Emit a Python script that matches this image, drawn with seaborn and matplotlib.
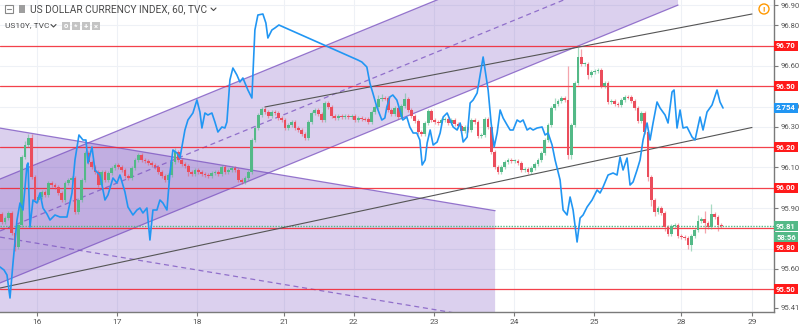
import numpy as np
import pandas as pd
import matplotlib
matplotlib.use("Agg")
import matplotlib.pyplot as plt
import seaborn as sns
from matplotlib.patches import Rectangle, Polygon, Ellipse
from matplotlib.lines import Line2D

sns.set_theme(style="white")
plt.rcParams['font.family'] = ['Roboto', 'DejaVu Sans']

# ---------------- data ----------------
first_open = 95.871
dxy_close = [
    95.831, 95.851, 95.876, 95.777, 95.708, 95.817, 96.152, 96.211, 96.245, 96.053,
    95.940, 95.955, 95.979, 95.964, 96.024, 96.014, 96.004, 95.974, 95.940, 96.024,
    96.038, 96.048, 95.881, 95.940, 96.038, 96.171, 96.127, 96.102, 96.078, 96.014,
    96.078, 96.038, 96.073, 96.097, 96.112, 96.102, 96.088, 96.058, 96.048, 96.097,
    96.137, 96.161, 96.137, 96.132, 96.122, 96.112, 96.102, 96.078, 96.058, 96.038,
    96.063, 96.127, 96.176, 96.137, 96.117, 96.107, 96.078, 96.068, 96.088, 96.078,
    96.068, 96.063, 96.058, 96.073, 96.078, 96.068, 96.102, 96.078, 96.088, 96.097,
    96.088, 96.038, 96.028, 96.048, 96.078, 96.235, 96.294, 96.358, 96.388, 96.373,
    96.354, 96.373, 96.368, 96.344, 96.334, 96.294, 96.309, 96.324, 96.294, 96.285,
    96.265, 96.245, 96.324, 96.368, 96.383, 96.363, 96.334, 96.418, 96.398, 96.354,
    96.344, 96.354, 96.349, 96.354, 96.349, 96.354, 96.334, 96.344, 96.341, 96.339,
    96.324, 96.373, 96.398, 96.437, 96.442, 96.440, 96.383, 96.363, 96.393, 96.349,
    96.403, 96.437, 96.383, 96.354, 96.329, 96.275, 96.265, 96.319, 96.378, 96.334,
    96.324, 96.319, 96.334, 96.339, 96.319, 96.334, 96.314, 96.304, 96.280, 96.299,
    96.285, 96.334, 96.324, 96.255, 96.260, 96.339, 96.299, 96.176, 96.102, 96.078,
    96.102, 96.127, 96.137, 96.132, 96.134, 96.122, 96.088, 96.090, 96.078, 96.097,
    96.117, 96.137, 96.171, 96.235, 96.309, 96.393, 96.413, 96.427, 96.442, 96.432,
    96.161, 96.309, 96.516, 96.644, 96.610, 96.612, 96.556, 96.570, 96.575, 96.580,
    96.501, 96.516, 96.423, 96.425, 96.413, 96.408, 96.432, 96.447, 96.445, 96.427,
    96.393, 96.329, 96.368, 96.275, 96.053, 95.940, 95.881, 95.900, 95.876, 95.807,
    95.772, 95.812, 95.817, 95.762, 95.757, 95.753, 95.718, 95.762, 95.792, 95.836,
    95.846, 95.826, 95.807, 95.871, 95.856, 95.817, 95.812,
]
# wick lengths beyond the candle body, in hundredths of an index point
wick_up = [
    1, 1, 1, 1, 1, 1, 1, 2, 2, 2,
    1, 1, 1, 1, 1, 1, 1, 1, 1, 1,
    1, 1, 1, 1, 1, 1, 1, 1, 1, 1,
    1, 1, 1, 1, 1, 1, 1, 1, 1, 1,
    1, 1, 1, 1, 1, 1, 1, 1, 1, 1,
    1, 1, 2, 1, 1, 1, 1, 1, 1, 1,
    1, 1, 1, 1, 1, 1, 1, 1, 1, 1,
    1, 1, 1, 1, 1, 1, 1, 1, 1, 1,
    1, 1, 1, 1, 1, 1, 1, 1, 1, 1,
    1, 1, 1, 1, 1, 1, 1, 1, 1, 1,
    1, 1, 1, 1, 1, 1, 1, 1, 1, 1,
    1, 1, 1, 2, 2, 1, 1, 1, 1, 1,
    1, 3, 1, 1, 1, 1, 1, 1, 1, 1,
    1, 1, 1, 1, 1, 1, 1, 1, 1, 1,
    1, 1, 1, 1, 1, 1, 1, 1, 1, 1,
    1, 1, 1, 1, 1, 1, 1, 1, 1, 1,
    1, 1, 1, 1, 1, 1, 3, 1, 1, 1,
    17, 1, 1, 5, 4, 1, 1, 1, 1, 1,
    1, 1, 1, 1, 1, 1, 1, 1, 1, 1,
    1, 1, 1, 1, 1, 1, 1, 1, 1, 1,
    1, 1, 1, 1, 1, 1, 1, 1, 1, 3,
    1, 4, 1, 5, 1, 1, 1,
]
wick_dn = [
    1, 1, 1, 1, 2, 1, 1, 1, 1, 1,
    1, 1, 1, 1, 1, 1, 1, 1, 1, 1,
    1, 1, 1, 1, 1, 1, 1, 1, 1, 1,
    1, 1, 1, 1, 1, 1, 1, 1, 1, 1,
    1, 1, 1, 1, 1, 1, 1, 1, 1, 1,
    1, 1, 1, 1, 1, 1, 2, 1, 1, 1,
    1, 1, 1, 1, 1, 1, 1, 1, 1, 1,
    1, 1, 1, 1, 1, 1, 1, 1, 1, 1,
    1, 1, 1, 1, 1, 1, 1, 1, 1, 1,
    1, 1, 1, 1, 1, 1, 1, 1, 1, 1,
    1, 1, 1, 1, 1, 1, 1, 1, 1, 1,
    1, 1, 1, 1, 1, 1, 1, 1, 1, 1,
    1, 1, 1, 1, 1, 1, 1, 1, 1, 1,
    1, 1, 1, 1, 1, 1, 1, 1, 1, 1,
    1, 1, 1, 1, 1, 1, 1, 1, 1, 1,
    1, 1, 1, 1, 1, 1, 1, 1, 1, 1,
    1, 1, 1, 1, 1, 1, 1, 1, 1, 1,
    2, 2, 1, 1, 1, 1, 2, 1, 1, 1,
    1, 1, 1, 1, 1, 1, 1, 1, 1, 1,
    1, 1, 1, 1, 2, 3, 2, 1, 1, 2,
    1, 1, 1, 1, 1, 1, 2, 3, 1, 1,
    1, 5, 1, 1, 1, 3, 1,
]
us10y_hour = [
    -0.5, 0.7, 1.6, 2.5, 3.4, 4.6, 5.5, 6.4, 7.6, 7.9, 8.5, 9.4, 10.6, 11.5, 12.4,
    13.6, 14.5, 16.0, 17.5, 19.6, 21.1, 22.0, 23.2, 24.4, 25.3, 25.9, 27.1, 28.0,
    29.5, 31.0, 31.9, 33.4, 34.6, 35.5, 37.0, 37.9, 39.4, 40.6, 41.5, 42.4, 43.6,
    44.5, 45.4, 46.6, 47.5, 48.4, 49.6, 50.5, 51.4, 52.6, 53.5, 55.0, 55.9, 57.4,
    58.6, 59.5, 60.1, 61.0, 61.9, 63.1, 64.0, 64.9, 66.1, 67.0, 67.6, 68.5, 69.4,
    70.6, 71.5, 72.4, 73.9, 75.1, 76.0, 76.9, 78.4, 79.3, 79.9, 81.1, 82.0, 83.2,
    106.9, 108.1, 109.6, 110.5, 111.4, 112.6, 114.1, 115.0, 115.6, 116.5, 117.4,
    118.6, 119.5, 120.4, 121.6, 122.5, 123.5, 124.6, 125.5, 126.2, 127.1, 127.7,
    128.6, 129.5, 130.7, 131.6, 132.5, 133.7, 134.6, 135.5, 136.7, 137.6, 138.5,
    139.7, 140.6, 141.5, 142.7, 143.6, 144.5, 146.0, 146.9, 147.8, 148.7, 149.6,
    150.5, 151.7, 152.6, 153.5, 154.7, 155.6, 156.5, 157.7, 158.6, 159.5, 160.7,
    162.2, 163.1, 164.0, 165.2, 166.1, 167.6, 168.5, 169.7, 170.6, 171.5, 172.7,
    173.6, 174.5, 175.7, 177.2, 178.7, 179.6, 180.5, 182.0, 183.5, 184.7, 185.6,
    186.5, 187.7, 188.6, 189.5, 190.7, 191.6, 192.5, 193.7, 194.6, 195.5, 196.7,
    197.6, 199.1, 200.0, 201.2, 201.8, 202.7, 203.6, 204.5, 205.7, 207.2, 208.1,
    209.6, 210.5, 211.7, 213.2, 214.7, 215.6, 216.5,
]
us10y_yield = [
    2.6904, 2.6892, 2.6872, 2.6780, 2.6920, 2.7092, 2.7160, 2.7132, 2.7312, 2.7320,
    2.7064, 2.7172, 2.7160, 2.7200, 2.7140, 2.7116, 2.7092, 2.7112, 2.7104, 2.7104,
    2.7200, 2.7332, 2.7432, 2.7412, 2.7412, 2.7320, 2.7384, 2.7292, 2.7272, 2.7172,
    2.7192, 2.7260, 2.7240, 2.7272, 2.7204, 2.7144, 2.7112, 2.7132, 2.7140, 2.7120,
    2.7140, 2.7012, 2.7132, 2.7132, 2.7172, 2.7160, 2.7132, 2.7280, 2.7372, 2.7360,
    2.7340, 2.7452, 2.7492, 2.7520, 2.7572, 2.7524, 2.7460, 2.7520, 2.7512, 2.7520,
    2.7484, 2.7444, 2.7464, 2.7460, 2.7484, 2.7652, 2.7700, 2.7672, 2.7644, 2.7660,
    2.7612, 2.7580, 2.7852, 2.7912, 2.7916, 2.7880, 2.7820, 2.7852, 2.7860, 2.7872,
    2.7732, 2.7724, 2.7704, 2.7640, 2.7600, 2.7544, 2.7492, 2.7500, 2.7544, 2.7584,
    2.7592, 2.7572, 2.7532, 2.7492, 2.7504, 2.7464, 2.7440, 2.7440, 2.7412, 2.7312,
    2.7332, 2.7400, 2.7452, 2.7392, 2.7404, 2.7440, 2.7504, 2.7520, 2.7492, 2.7464,
    2.7452, 2.7480, 2.7404, 2.7424, 2.7560, 2.7572, 2.7600, 2.7672, 2.7744, 2.7612,
    2.7480, 2.7384, 2.7440, 2.7532, 2.7500, 2.7472, 2.7452, 2.7452, 2.7492, 2.7484,
    2.7492, 2.7452, 2.7460, 2.7452, 2.7460, 2.7464, 2.7432, 2.7440, 2.7392, 2.7332,
    2.7252, 2.7132, 2.7112, 2.7184, 2.7132, 2.7004, 2.7100, 2.7112, 2.7144, 2.7172,
    2.7212, 2.7200, 2.7224, 2.7272, 2.7280, 2.7272, 2.7344, 2.7292, 2.7340, 2.7232,
    2.7244, 2.7292, 2.7332, 2.7412, 2.7480, 2.7412, 2.7480, 2.7564, 2.7540, 2.7512,
    2.7480, 2.7604, 2.7612, 2.7460, 2.7532, 2.7460, 2.7464, 2.7424, 2.7412, 2.7504,
    2.7452, 2.7524, 2.7552, 2.7612, 2.7564, 2.7540,
]
day_labels = ["16", "17", "18", "21", "22", "23", "24", "25", "28", "29"]
day_ticks = [10.6, 34.6, 58.6, 84.7, 105.7, 129.8, 153.8, 177.8, 203.9, 225.2]
level_prices = [96.70, 96.50, 96.20, 96.00, 95.80, 95.50]
level_labels = ["96.70", "96.50", "96.20", "96.00", "95.80", "95.50"]
price_ticks = [96.90, 96.80, 96.60, 96.40, 96.30, 96.10, 95.90, 95.60, 95.41]
last_price = 95.81
last_yield = 2.754
countdown = "58:56"
# user drawings (anchor points: hour index, price)
rise_channel_t = [-0.5, 203.0]
rise_channel_base = [95.531, 96.900]
rise_channel_width = 0.512
fall_channel_t = [-0.5, 148.1]
fall_channel_top = [96.294, 95.887]
fall_channel_width = 1.074
trend_a_t, trend_a_p = [79.0, 225.2], [96.398, 96.856]
trend_b_t, trend_b_p = [-0.5, 225.2], [95.506, 96.297]

# ---------------- style ----------------
UP, DN = "#53b987", "#eb4d5c"
PURPLE = "#7e57c2"
RED = "#f5222d"
BLUE = "#2196f3"
W, H = 800, 325
AXR = 774  # right edge of plotting area, px

fig = plt.figure(figsize=(8, 3.25), dpi=100)
fig.patch.set_facecolor("white")
ax = fig.add_axes([0, 13 / H, AXR / W, 312 / H])
ax2 = ax.twinx()
ax.set_facecolor("white")
ax.set_xlim(-0.5, 231.8)
ax.set_ylim(95.388, 96.925)

# grid
for g in np.round(np.arange(95.5, 96.95, 0.1), 2):
    ax.axhline(g, color="#eef1f6", lw=0.8, zorder=0.2)
for d in day_ticks:
    ax.axvline(d, color="#eef1f6", lw=0.8, zorder=0.2)

# falling channel (filled down to lower boundary)
ft0, ft1 = fall_channel_t
fa, fb = fall_channel_top
fw = fall_channel_width
ax.add_patch(Polygon([(ft0, fa), (ft1, fb), (ft1, fb - fw), (ft0, fa - fw)],
                     closed=True, fc=PURPLE, alpha=0.28, ec="none", zorder=1))
ax.plot([ft0, ft1], [fa, fb], color=PURPLE, lw=0.9, alpha=0.8, zorder=1.5)
ax.plot([ft0, ft1], [fa - fw / 2, fb - fw / 2], color=PURPLE, lw=0.9, alpha=0.8,
        ls=(0, (4, 3)), zorder=1.5)

# rising channel
rt0, rt1 = rise_channel_t
ra, rb = rise_channel_base
rw = rise_channel_width
ax.add_patch(Polygon([(rt0, ra), (rt1, rb), (rt1, rb + rw), (rt0, ra + rw)],
                     closed=True, fc=PURPLE, alpha=0.28, ec="none", zorder=1))
ax.plot([rt0, rt1], [ra, rb], color=PURPLE, lw=0.9, alpha=0.8, zorder=1.5)
ax.plot([rt0, rt1], [ra + rw, rb + rw], color=PURPLE, lw=0.9, alpha=0.8, zorder=1.5)
ax.plot([rt0, rt1], [ra + rw / 2, rb + rw / 2], color=PURPLE, lw=0.9, alpha=0.8,
        ls=(0, (4, 3)), zorder=1.5)

# horizontal levels
for p in level_prices:
    ax.axhline(p, color=RED, lw=0.9, alpha=0.85, zorder=2.5)
ax.axhline(last_price, color=UP, lw=1.0, ls=(0, (1, 1)), zorder=2.6)

# trend lines
ax.plot(trend_a_t, trend_a_p, color="#555555", lw=0.8, zorder=2.6)
ax.plot(trend_b_t, trend_b_p, color="#555555", lw=0.8, zorder=2.6)

# candles
closes = np.array(dxy_close)
opens = np.r_[first_open, closes[:-1]]
t = np.arange(len(closes))
highs = np.maximum(opens, closes) + np.array(wick_up) / 100
lows = np.minimum(opens, closes) - np.array(wick_dn) / 100
col = np.where(closes >= opens, UP, DN)
ax.vlines(t, lows, highs, colors=col, lw=0.9, alpha=0.5, zorder=3)
body = closes - opens
body = np.where(np.abs(body) < 0.005, np.where(body >= 0, 0.005, -0.005), body)
ax.bar(t, body, bottom=opens, width=0.82, color=col, lw=0, zorder=3.1)

# axes styling
for s in ["left", "top"]:
    ax.spines[s].set_visible(False)
for s in ["right", "bottom"]:
    ax.spines[s].set_color("#7a7a7a")
    ax.spines[s].set_linewidth(1.0)
ax.yaxis.tick_right()
ax.set_yticks(price_ticks)
ax.set_yticklabels([f"{p:.2f}" for p in price_ticks])
ax.tick_params(axis="y", which="both", length=3, width=0.8, color="#7a7a7a",
               labelsize=5.5, labelcolor="#555555", pad=2,
               right=True, left=False, labelright=True, labelleft=False)
ax.set_xticks(day_ticks)
ax.set_xticklabels(day_labels)
ax.tick_params(axis="x", length=3, width=0.8, color="#7a7a7a", labelsize=6,
               labelcolor="#555555", pad=2, bottom=True)
ax.set_xlabel("")
ax.set_ylabel("")

# US10Y overlay on its own hidden scale
ax2.set_ylim(2.6724, 2.7972)
df = pd.DataFrame({"hour": us10y_hour, "yield": us10y_yield})
sns.lineplot(data=df, x="hour", y="yield", ax=ax2, color=BLUE, lw=1.2,
             sort=False, estimator=None)
ax2.set_xlim(ax.get_xlim())
ax2.set_yticks([])
ax2.tick_params(axis="both", left=False, right=False, labelleft=False, labelright=False)
ax2.set_ylabel("")
ax2.set_xlabel("")
for s in ax2.spines.values():
    s.set_visible(False)


def fig_y(price):
    return ax.transData.transform((0, price))[1] / H


def tag(ypos, text, fc):
    y = fig_y(ypos)
    h = 10 / H
    fig.add_artist(Rectangle((AXR / W, y - h / 2), 24 / W, h, transform=fig.transFigure,
                             fc=fc, ec="none", zorder=10))
    fig.text((AXR + 12) / W, y, text, ha="center", va="center", color="white",
             fontsize=5.5, fontweight="bold", zorder=11)


for p, lab in zip(level_prices, level_labels):
    yy = p if lab != "95.80" else 95.708
    tag(yy, lab, "#ff1a1a")
tag(96.393, f"{last_yield:.3f}", BLUE)
tag(last_price, f"{last_price:.2f}", UP)
tag(95.757, countdown, UP)

# orange alert icon
fig.add_artist(Ellipse((764 / W, 1 - 9 / H), 10 / W, 10 / H, transform=fig.transFigure,
                       fc="white", ec="#ff9800", lw=1.0, zorder=12))
fig.text(764 / W, 1 - 9.2 / H, "!", ha="center", va="center", color="#ff9800",
         fontsize=6, fontweight="bold", zorder=13)

# legend header
fig.add_artist(Rectangle((5 / W, 1 - 13 / H), 8 / W, 8 / H, transform=fig.transFigure,
                         fc="white", ec="#888888", lw=0.8, zorder=12))
fig.add_artist(Line2D([7 / W, 11 / W], [1 - 9 / H, 1 - 9 / H], transform=fig.transFigure,
                      color="#888888", lw=0.8, zorder=13))
fig.add_artist(Rectangle((19 / W, 1 - 13 / H), 6 / W, 8 / H, transform=fig.transFigure,
                         fc="#9e9e9e", ec="none", zorder=12))
fig.text(30 / W, 1 - 9 / H, "US DOLLAR CURRENCY INDEX, 60, TVC", ha="left", va="center",
         color="#4a4a4a", fontsize=7.3, zorder=12)
fig.add_artist(Line2D([211 / W, 213.5 / W, 216 / W], [1 - 8 / H, 1 - 10.5 / H, 1 - 8 / H],
                      transform=fig.transFigure, color="#4a4a4a", lw=0.8, zorder=13))
fig.text(5 / W, 1 - 25.5 / H, "US10Y, TVC", ha="left", va="center",
         color="#4a4a4a", fontsize=6, zorder=12)
fig.add_artist(Line2D([51 / W, 53.5 / W, 56 / W], [1 - 24.5 / H, 1 - 27 / H, 1 - 24.5 / H],
                      transform=fig.transFigure, color="#4a4a4a", lw=0.8, zorder=13))
for k, sym in enumerate(["o", "*", "+", "×"]):
    x0 = 62 + k * 10
    fig.add_artist(Rectangle((x0 / W, 1 - 30 / H), 8 / W, 8 / H, transform=fig.transFigure,
                             fc="#c4c4c4", ec="none", zorder=12))
    fig.text((x0 + 4) / W, 1 - 26 / H, sym, ha="center", va="center", color="white",
             fontsize=5.5, fontweight="bold", zorder=13)

fig.savefig("out.png", dpi=100)
